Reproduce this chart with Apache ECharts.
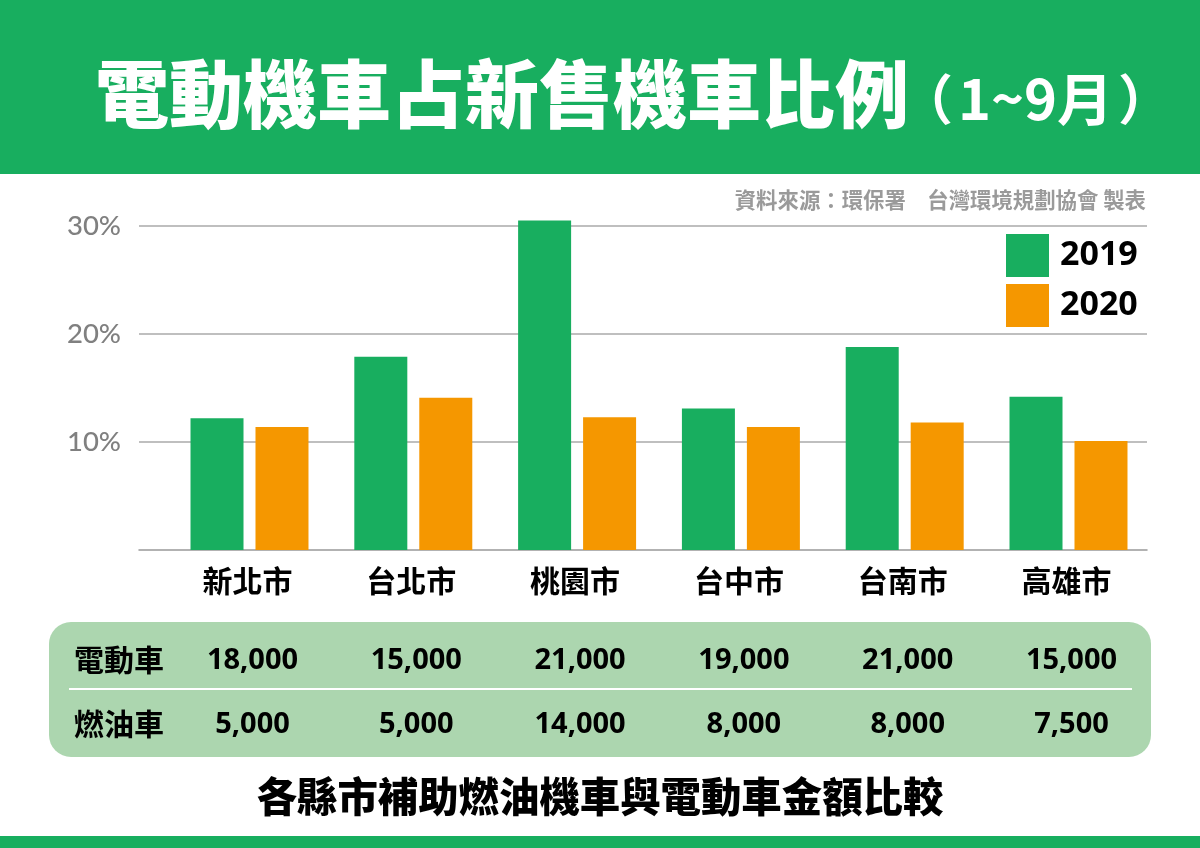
<!DOCTYPE html>
<html lang="zh-Hant">
<head>
  <meta charset="UTF-8">
  <title>電動機車占新售機車比例</title>
  <script src="https://cdn.jsdelivr.net/npm/echarts@6/dist/echarts.min.js"></script>
  <style>
    html, body { margin: 0; padding: 0; background: #fff; }
    #main { width: 1200px; height: 848px; }
  </style>
</head>
<body>
  <div id="main"></div>
  <script>
    var cities = ['新北市', '台北市', '桃園市', '台中市', '台南市', '高雄市'];
    var share2019 = [12.2, 17.9, 30.5, 13.1, 18.8, 14.2];
    var share2020 = [11.4, 14.1, 12.3, 11.4, 11.8, 10.1];
    var evSubsidy = ['18,000', '15,000', '21,000', '19,000', '21,000', '15,000'];
    var gasSubsidy = ['5,000', '5,000', '14,000', '8,000', '8,000', '7,500'];

    var CJK = '"Noto Sans CJK TC", sans-serif';
    var GREEN = '#18AE5F';
    var ORANGE = '#F59700';

    var myChart = echarts.init(document.getElementById('main'));

    var headStyle = { color: '#fff', fontFamily: CJK, fontWeight: 700, fontSize: 54, lineHeight: 70 };

    var option = {
      animation: false,
      backgroundColor: '#fff',
      title: [
        {
          text: '電動機車占新售機車比例',
          left: 95, top: 44, padding: 0,
          textStyle: { color: '#fff', fontFamily: CJK, fontWeight: 900, fontSize: 74, lineHeight: 100 }
        },
        { text: '（', left: 899, top: 64, padding: 0, textStyle: headStyle },
        {
          text: '1~9月',
          left: 958, top: 64, padding: 0,
          textStyle: { color: '#fff', fontFamily: CJK, fontWeight: 700, fontSize: 56, lineHeight: 70 }
        },
        { text: '）', left: 1118, top: 64, padding: 0, textStyle: headStyle },
        {
          text: '資料來源：環保署　台灣環境規劃協會 製表',
          right: 54, top: 185, padding: 0,
          textStyle: { color: '#9a9a9a', fontFamily: CJK, fontWeight: 700, fontSize: 21.4, lineHeight: 30 }
        },
        {
          text: '各縣市補助燃油機車與電動車金額比較',
          left: 'center', top: 769, padding: 0,
          textStyle: { color: '#000', fontFamily: CJK, fontWeight: 900, fontSize: 40.4, lineHeight: 56 }
        }
      ],
      legend: {
        left: 1001, top: 229, orient: 'vertical',
        itemWidth: 43, itemHeight: 43, itemGap: 7,
        icon: 'rect',
        textStyle: { color: '#000', fontFamily: '"Open Sans", sans-serif', fontWeight: 700, fontSize: 34, padding: [0, 0, 0, 6] },
        data: ['2019', '2020']
      },
      // grid 0 只畫刻度與格線，grid 1 放長條（長條分組比格線窄）
      grid: [
        { left: 139, width: 1008, top: 118, height: 432 },
        { left: 167.6, width: 982.8, top: 118, height: 432 }
      ],
      xAxis: [
        {
          gridIndex: 0, type: 'value', min: 0, max: 1,
          axisLabel: { show: false }, axisTick: { show: false }, splitLine: { show: false },
          axisLine: { show: true, lineStyle: { color: '#999', width: 1.5 } }
        },
        {
          gridIndex: 1, type: 'category', data: cities,
          axisLine: { show: false }, axisTick: { show: false },
          axisLabel: {
            color: '#000', fontFamily: CJK, fontWeight: 700, fontSize: 30,
            margin: 16, padding: [0, 4, 0, 0]
          }
        }
      ],
      yAxis: [
        {
          gridIndex: 0, type: 'value', min: 0, max: 40, interval: 10,
          axisLine: { show: false }, axisTick: { show: false },
          axisLabel: {
            color: '#808080', fontFamily: 'Lato, sans-serif', fontWeight: 500, fontSize: 27.5, margin: 18,
            padding: [0, 0, 4, 0],
            showMaxLabel: false,
            formatter: function (v) { return v === 0 ? '' : v + '%'; }
          },
          splitLine: { show: true, showMinLine: false, showMaxLine: false, lineStyle: { color: '#aaa', width: 1.5 } }
        },
        {
          gridIndex: 1, type: 'value', min: 0, max: 40, interval: 10,
          axisLine: { show: false }, axisTick: { show: false },
          axisLabel: { show: false }, splitLine: { show: false }
        }
      ],
      series: [
        {
          name: '2019', type: 'bar', xAxisIndex: 1, yAxisIndex: 1,
          data: share2019, barWidth: 53, barGap: '22.6%',
          itemStyle: { color: GREEN }
        },
        {
          name: '2020', type: 'bar', xAxisIndex: 1, yAxisIndex: 1,
          data: share2020, barWidth: 53,
          itemStyle: { color: ORANGE }
        }
      ]
    };
    myChart.setOption(option);

    // 表格文字對齊各縣市的長條分組
    function tableText(text, x, y, size, font) {
      return {
        type: 'text', x: x, y: y, z: 10,
        style: {
          text: text, fill: '#000', fontFamily: font, fontWeight: 700, fontSize: size,
          textAlign: 'center', textVerticalAlign: 'middle'
        }
      };
    }

    var elements = [
      { type: 'rect', z: -1, shape: { x: 0, y: 0, width: 1200, height: 174 }, style: { fill: GREEN } },
      { type: 'rect', z: -1, shape: { x: 0, y: 836, width: 1200, height: 12 }, style: { fill: GREEN } },
      { type: 'rect', z: 1, shape: { x: 49, y: 622, width: 1102, height: 135, r: 22 }, style: { fill: '#ACD6AF' } },
      { type: 'rect', z: 2, shape: { x: 69, y: 688, width: 1063, height: 2 }, style: { fill: '#fff' } },
      tableText('電動車', 119, 660, 30, CJK),
      tableText('燃油車', 119, 724, 30, CJK)
    ];
    var valueFont = '"Open Sans", sans-serif';
    cities.forEach(function (city, i) {
      var cx = myChart.convertToPixel({ xAxisIndex: 1 }, city) + 3;
      elements.push(tableText(evSubsidy[i], cx, 660.5, 29, valueFont));
      elements.push(tableText(gasSubsidy[i], cx, 724.5, 29, valueFont));
    });
    myChart.setOption({ graphic: { elements: elements } });
  </script>
</body>
</html>
